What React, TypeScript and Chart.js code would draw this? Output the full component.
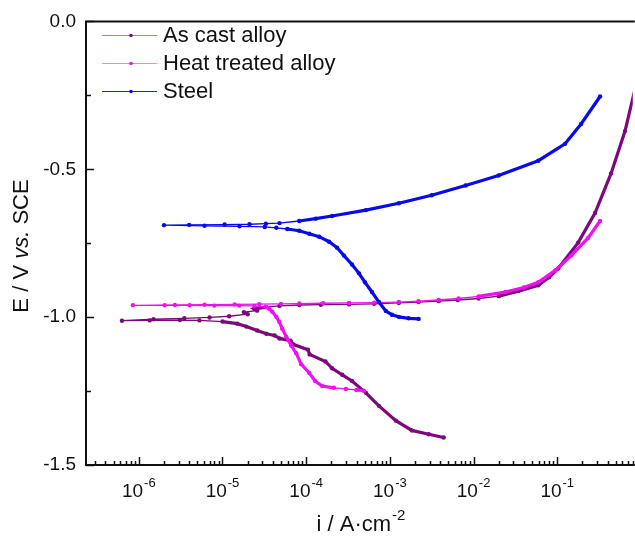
import React, { useEffect, useRef } from 'react';
import { Chart, registerables } from 'chart.js';

Chart.register(...registerables);

const FONT = '"Liberation Sans", Arial, sans-serif';

const seriesNames = ['As cast alloy', 'Heat treated alloy', 'Steel'];
const seriesColors = ['#7d087d', '#f010f0', '#0a0ae6'];

// As cast alloy: current density (A/cm2) and potential (V vs SCE)
const asCastCurrent = [
  4.4e-3, 2.91e-3, 1.83e-3, 1.18e-3, 7.4e-4, 5.18e-4, 3.53e-4, 2.7e-4, 2.04e-4, 1.7e-4,
  1.1e-4, 1.05e-4, 7.0e-5, 6.5e-5, 4.8e-5, 4.2e-5, 3.34e-5, 2.6e-5, 1.93e-5, 1.5e-5,
  1.0e-5, 5.3e-6, 3.1e-6, 1.35e-6, 6.3e-7, 1.5e-6, 3.5e-6, 7.0e-6, 1.2e-5, 2.0e-5,
  1.8e-5, 2.6e-5, 2.4e-5, 3.3e-5, 4.8e-5, 8.3e-5, 1.5e-4, 3.25e-4, 6.5e-4, 1.28e-3,
  2.2e-3, 3.83e-3, 6.5e-3, 1.15e-2, 2.0e-2, 3.44e-2, 5.94e-2, 8.0e-2, 0.103, 0.178,
  0.283, 0.44, 0.646, 0.92,
];
const asCastPotential = [
  -1.407, -1.396, -1.383, -1.35, -1.3, -1.256, -1.216, -1.195, -1.173, -1.15,
  -1.126, -1.11, -1.092, -1.08, -1.072, -1.062, -1.056, -1.045, -1.032, -1.022,
  -1.015, -1.011, -1.01, -1.011, -1.012, -1.007, -1.004, -1.001, -0.997, -0.99,
  -0.983, -0.978, -0.972, -0.966, -0.962, -0.959, -0.958, -0.957, -0.955, -0.952,
  -0.949, -0.946, -0.942, -0.937, -0.929, -0.912, -0.892, -0.865, -0.835, -0.748,
  -0.648, -0.514, -0.371, -0.187,
];

// Heat treated alloy
const heatCurrent = [
  4.9e-4, 3.99e-4, 2.99e-4, 2.15e-4, 1.55e-4, 1.28e-4, 1.09e-4, 8.71e-5, 7.6e-5, 6.62e-5,
  5.78e-5, 5.18e-5, 4.78e-5, 4.4e-5, 3.94e-5, 3.63e-5, 3.34e-5, 2.4e-5, 1.59e-5, 8.0e-6,
  4.05e-6, 2.04e-6, 8.5e-7, 2.7e-6, 6.1e-6, 1.4e-5, 2.75e-5, 5.0e-5, 8.26e-5, 1.6e-4,
  3.25e-4, 6.5e-4, 1.28e-3, 2.2e-3, 3.83e-3, 6.6e-3, 1.15e-2, 2.4e-2, 4.0e-2, 5.94e-2,
  9.46e-2, 0.147, 0.234, 0.325,
];
const heatPotential = [
  -1.249, -1.246, -1.243, -1.239, -1.233, -1.216, -1.189, -1.159, -1.122, -1.096,
  -1.066, -1.039, -1.016, -0.999, -0.982, -0.972, -0.966, -0.962, -0.961, -0.961,
  -0.96, -0.96, -0.96, -0.959, -0.958, -0.957, -0.956, -0.955, -0.954, -0.953,
  -0.952, -0.951, -0.949, -0.946, -0.942, -0.937, -0.93, -0.915, -0.9, -0.882,
  -0.842, -0.792, -0.732, -0.675,
];

// Steel
const steelCurrent = [
  2.21e-3, 1.68e-3, 1.28e-3, 1.06e-3, 8.95e-4, 7.4e-4, 6.11e-4, 5.04e-4, 4.28e-4, 3.53e-4,
  2.83e-4, 2.34e-4, 1.88e-4, 1.43e-4, 1.09e-4, 8.26e-5, 5.94e-5, 4.4e-5, 3.2e-5, 1.6e-5,
  6.1e-6, 2.0e-6, 4.0e-6, 1.06e-5, 2.1e-5, 3.3e-5, 4.8e-5, 8.26e-5, 1.3e-4, 2.04e-4,
  5.18e-4, 1.28e-3, 3.16e-3, 8.04e-3, 1.99e-2, 5.94e-2, 0.124, 0.193, 0.325,
];
const steelPotential = [
  -1.006, -1.004, -0.999, -0.992, -0.979, -0.949, -0.915, -0.882, -0.852, -0.822,
  -0.792, -0.765, -0.745, -0.728, -0.718, -0.708, -0.702, -0.698, -0.695, -0.693,
  -0.691, -0.689, -0.688, -0.687, -0.686, -0.684, -0.682, -0.675, -0.667, -0.658,
  -0.638, -0.615, -0.588, -0.555, -0.521, -0.471, -0.414, -0.347, -0.254,
];

const xTickExponents = [-6, -5, -4, -3, -2, -1];
const xMin = 2.34e-7;
const xMax = 0.8;
const yMin = -1.5;
const yMax = 0;
const yMajorTicks = [0, -0.5, -1.0, -1.5];
const yMinorTicks = [-0.25, -0.75, -1.25];

function zip(xs: number[], ys: number[]) {
  return xs.map((x, i) => ({ x, y: ys[i] }));
}

const originPlugin = {
  id: 'originStyle',
  afterDraw(chart: any) {
    const { ctx, chartArea: a, scales } = chart;
    const xs = scales.x;
    const ys = scales.y;
    ctx.save();
    ctx.strokeStyle = '#111';
    ctx.fillStyle = '#111';
    ctx.lineWidth = 2;
    ctx.beginPath();
    ctx.moveTo(a.left - 1, a.top);
    ctx.lineTo(a.right + 2, a.top);
    ctx.moveTo(a.left, a.top);
    ctx.lineTo(a.left, a.bottom + 1);
    ctx.moveTo(a.left - 1, a.bottom);
    ctx.lineTo(a.right + 2, a.bottom);
    ctx.stroke();

    ctx.lineWidth = 1.5;
    ctx.beginPath();
    yMajorTicks.forEach((v) => {
      const py = Math.round(ys.getPixelForValue(v)) + 0.5;
      ctx.moveTo(a.left, py);
      ctx.lineTo(a.left + 8, py);
    });
    yMinorTicks.forEach((v) => {
      const py = Math.round(ys.getPixelForValue(v)) + 0.5;
      ctx.moveTo(a.left, py);
      ctx.lineTo(a.left + 5, py);
    });
    for (let n = -7; n <= 0; n++) {
      for (let k = 1; k <= 9; k++) {
        const v = k * Math.pow(10, n);
        if (v < xMin || v > xMax) continue;
        const px = Math.round(xs.getPixelForValue(v)) + 0.5;
        const len = k === 1 ? 8 : 4;
        ctx.moveTo(px, a.bottom);
        ctx.lineTo(px, a.bottom - len);
      }
    }
    ctx.stroke();

    ctx.textBaseline = 'alphabetic';
    ctx.textAlign = 'left';
    xTickExponents.forEach((n) => {
      const px = xs.getPixelForValue(Math.pow(10, n));
      ctx.font = `19px ${FONT}`;
      const w1 = ctx.measureText('10').width;
      ctx.font = `13px ${FONT}`;
      const sup = String(n);
      const w2 = ctx.measureText(sup).width;
      const start = px - (w1 + w2 + 1) / 2;
      ctx.font = `19px ${FONT}`;
      ctx.fillText('10', start, a.bottom + 32);
      ctx.font = `13px ${FONT}`;
      ctx.fillText(sup, start + w1 + 1, a.bottom + 22);
    });

    {
      const main = 'i / A·cm';
      const sup = '-2';
      ctx.font = `22px ${FONT}`;
      const w1 = ctx.measureText(main).width;
      ctx.font = `15px ${FONT}`;
      const w2 = ctx.measureText(sup).width;
      const cx = (a.left + 635) / 2;
      const start = cx - (w1 + w2) / 2;
      ctx.font = `22px ${FONT}`;
      ctx.fillText(main, start, 531);
      ctx.font = `15px ${FONT}`;
      ctx.fillText(sup, start + w1 + 1, 520);
    }

    {
      const parts = [
        { t: 'E / V ', f: `22px ${FONT}` },
        { t: 'vs.', f: `italic 22px ${FONT}` },
        { t: ' SCE', f: `22px ${FONT}` },
      ];
      let total = 0;
      const widths = parts.map((p) => {
        ctx.font = p.f;
        const w = ctx.measureText(p.t).width;
        total += w;
        return w;
      });
      ctx.save();
      ctx.translate(22, 246);
      ctx.rotate(-Math.PI / 2);
      ctx.textBaseline = 'middle';
      let x0 = -total / 2;
      parts.forEach((p, i) => {
        ctx.font = p.f;
        ctx.fillText(p.t, x0, 0);
        x0 += widths[i];
      });
      ctx.restore();
    }

    const rows = [35, 63, 91];
    chart.data.datasets.forEach((ds: any, i: number) => {
      const yy = rows[i];
      ctx.strokeStyle = ds.borderColor;
      ctx.globalAlpha = i === 2 ? 0.9 : 0.55;
      ctx.lineWidth = 1;
      ctx.beginPath();
      ctx.moveTo(102, yy + 0.5);
      ctx.lineTo(157, yy + 0.5);
      ctx.stroke();
      ctx.globalAlpha = 1;
      ctx.fillStyle = ds.borderColor;
      ctx.beginPath();
      ctx.arc(131, yy + 0.5, 1.8, 0, Math.PI * 2);
      ctx.fill();
      ctx.fillStyle = '#111';
      ctx.font = `22px ${FONT}`;
      ctx.textBaseline = 'middle';
      ctx.fillText(ds.label, 163, yy + 1);
    });
    ctx.restore();
  },
};

export default function App() {
  const canvasRef = useRef<HTMLCanvasElement | null>(null);

  useEffect(() => {
    document.body.style.margin = '0';
    const canvas = canvasRef.current;
    if (!canvas) return;
    const seriesCurrent = [asCastCurrent, heatCurrent, steelCurrent];
    const seriesPotential = [asCastPotential, heatPotential, steelPotential];
    const drawOrder = [2, 1, 0];
    const chart = new Chart(canvas, {
      type: 'scatter',
      data: {
        datasets: seriesNames.map((name, i) => ({
          label: name,
          data: zip(seriesCurrent[i], seriesPotential[i]),
          showLine: true,
          borderColor: seriesColors[i],
          backgroundColor: seriesColors[i],
          borderWidth: 3,
          pointRadius: 2.2,
          pointBorderWidth: 0,
          pointHoverRadius: 2.2,
          tension: 0,
          order: drawOrder[i],
          segment: {
            borderWidth: (c: any) => {
              const dx = Math.abs(c.p1.x - c.p0.x);
              const dy = Math.abs(c.p1.y - c.p0.y);
              return dy < 0.14 * dx && dx > 10 ? 1.3 : 3.2;
            },
          },
        })),
      },
      options: {
        animation: false,
        responsive: false,
        events: [],
        layout: { padding: { top: 16, left: 0, right: 0, bottom: 0 } },
        plugins: {
          legend: { display: false },
          tooltip: { enabled: false },
          title: { display: false },
        },
        scales: {
          x: {
            type: 'logarithmic',
            min: xMin,
            max: xMax,
            grid: { display: false, drawTicks: false },
            border: { display: false },
            ticks: { display: false },
            afterFit: (scale: any) => {
              scale.height = 77;
            },
          },
          y: {
            type: 'linear',
            min: yMin,
            max: yMax,
            grid: { display: false, drawTicks: false },
            border: { display: false },
            ticks: {
              stepSize: 0.25,
              padding: 10,
              color: '#111',
              font: { family: FONT, size: 19 },
              callback: (v: any) => {
                const n = Number(v);
                return Math.abs(n * 2 - Math.round(n * 2)) < 1e-6 ? n.toFixed(1) : '';
              },
            },
            afterFit: (scale: any) => {
              scale.width = 86;
            },
          },
        },
      },
      plugins: [originPlugin],
    });
    return () => chart.destroy();
  }, []);

  return (
    <div style={{ position: 'absolute', left: 0, top: 0, width: 635, height: 542, background: '#fff' }}>
      <canvas ref={canvasRef} width={635} height={542} />
    </div>
  );
}
